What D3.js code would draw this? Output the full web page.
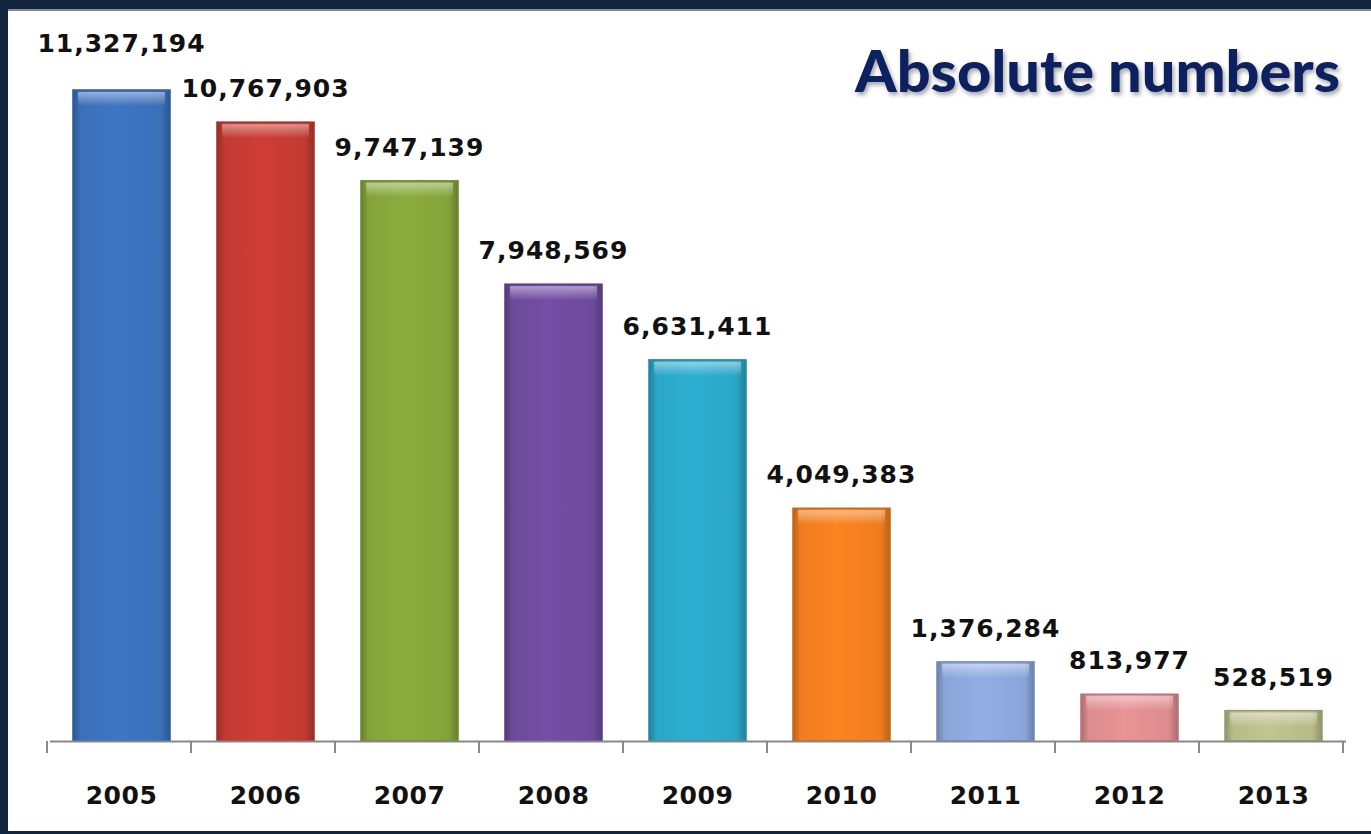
<!DOCTYPE html>
<html lang='en'>
<head>
	<meta charset='UTF-8'/>
	<title>Absolute numbers</title>
	<script src='https://cdnjs.cloudflare.com/ajax/libs/d3/7.8.5/d3.min.js'></script>
	<style>
		body {margin: 0; background: #fff; overflow: hidden;}
		svg {display: block;}
		.val {font-family: 'DejaVu Sans', sans-serif; font-weight: 700; font-size: 25px; letter-spacing: 1px; fill: #111;}
		.year text {font-family: 'DejaVu Sans', sans-serif; font-weight: 700; font-size: 25px; letter-spacing: 0.5px; fill: #111;}
	</style>
</head>
<body>
	<div class='graph'></div>
	<script>
		// data
		const years = ['2005', '2006', '2007', '2008', '2009', '2010', '2011', '2012', '2013'];
		const values = [11327194, 10767903, 9747139, 7948569, 6631411, 4049383, 1376284, 813977, 528519];
		const colors = ['#3b70ba', '#c23a32', '#83a43a', '#6d4b9c', '#2ba6c6', '#ef7d1f', '#8aa5d9', '#dd8c8f', '#b7bb88'];

		const width = 1371, height = 834;
		const margin = {top: 90, right: 25.5, bottom: 93, left: 49.5};

		const svg = d3.select('.graph').append('svg')
			.attr('width', width)
			.attr('height', height);

		// frame
		svg.append('rect').attr('width', width).attr('height', height).attr('fill', '#13263f');
		svg.append('rect').attr('x', 8).attr('y', 9).attr('width', width - 8).attr('height', 822).attr('fill', '#fff');
		svg.append('line').attr('x1', 8).attr('x2', width).attr('y1', 10).attr('y2', 10)
			.attr('stroke', '#8a8a8a').attr('stroke-width', 2);

		const x = d3.scaleBand()
			.domain(years)
			.range([margin.left, width - margin.right])
			.paddingInner(0.326)
			.paddingOuter(0.163);
		const y = d3.scaleLinear()
			.domain([0, d3.max(values)])
			.range([height - margin.bottom, margin.top]);

		const defs = svg.append('defs');
		colors.forEach((c, i) => {
			const g = defs.append('linearGradient').attr('id', 'g' + i)
				.attr('x1', 0).attr('x2', 1).attr('y1', 0).attr('y2', 0);
			const dark = d3.color(c).darker(0.7), light = d3.color(c).brighter(0.15);
			g.append('stop').attr('offset', '0%').attr('stop-color', dark);
			g.append('stop').attr('offset', '8%').attr('stop-color', c);
			g.append('stop').attr('offset', '45%').attr('stop-color', light);
			g.append('stop').attr('offset', '90%').attr('stop-color', c);
			g.append('stop').attr('offset', '100%').attr('stop-color', dark);
		});
		const hl = defs.append('linearGradient').attr('id', 'hl')
			.attr('x1', 0).attr('x2', 0).attr('y1', 0).attr('y2', 1);
		hl.append('stop').attr('offset', '0%').attr('stop-color', '#fff').attr('stop-opacity', 0.45);
		hl.append('stop').attr('offset', '100%').attr('stop-color', '#fff').attr('stop-opacity', 0);

		const bars = svg.append('g').selectAll('g').data(values).enter().append('g');
		bars.append('rect')
			.attr('x', (d, i) => x(years[i]))
			.attr('y', d => y(d))
			.attr('width', x.bandwidth())
			.attr('height', d => y(0) - y(d))
			.attr('fill', (d, i) => 'url(#g' + i + ')')
			.attr('stroke', (d, i) => d3.color(colors[i]).darker(0.5))
			.attr('stroke-width', 1.5);
		bars.append('rect')
			.attr('x', (d, i) => x(years[i]) + 5)
			.attr('y', d => y(d) + 2)
			.attr('width', x.bandwidth() - 10)
			.attr('height', 14)
			.attr('fill', 'url(#hl)');

		// axis
		const axis = svg.append('g')
			.attr('class', 'year')
			.attr('transform', 'translate(0,' + (height - margin.bottom) + ')')
			.call(d3.axisBottom(x).tickSize(0).tickPadding(58));
		axis.select('.domain').attr('stroke', '#888').attr('stroke-width', 2);
		axis.selectAll('text').attr('dy', '0.2em');
		const edges = years.map(yr => x(yr) - 26).concat([x(years[years.length - 1]) - 26 + x.step()]);
		axis.selectAll('.edge').data(edges).enter().append('line')
			.attr('x1', d => d).attr('x2', d => d).attr('y1', 0).attr('y2', 12)
			.attr('stroke', '#888').attr('stroke-width', 2);

		// value labels
		svg.append('g').selectAll('text').data(values).enter().append('text')
			.attr('class', 'val')
			.attr('text-anchor', 'middle')
			.attr('x', (d, i) => x(years[i]) + x.bandwidth() / 2)
			.attr('y', (d, i) => y(d) - (i === 0 ? 38 : 25))
			.text(d => d3.format(',')(d));

		// title
		svg.append('text')
			.attr('x', 1340).attr('y', 92)
			.attr('text-anchor', 'end')
			.attr('textLength', 485)
			.attr('lengthAdjust', 'spacingAndGlyphs')
			.style('font-family', "Lato, 'Open Sans', sans-serif")
			.style('font-weight', 900)
			.style('font-size', '58px')
			.style('fill', '#0d2060')
			.style('filter', 'drop-shadow(2px 3px 2px rgba(0,0,0,0.35))')
			.text('Absolute numbers');
	</script>
</body>
</html>
